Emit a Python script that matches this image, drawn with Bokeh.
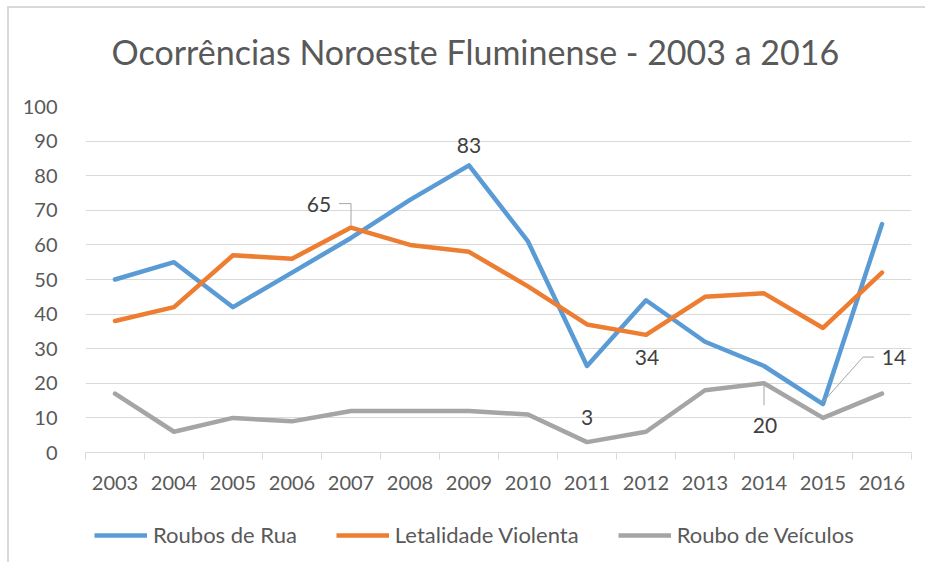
from bokeh.plotting import figure
from bokeh.layouts import column
from bokeh.models import (FixedTicker, Legend, LegendItem, Label, Range1d, Title)
from bokeh.embed import file_html
from bokeh.resources import INLINE

years = [2003, 2004, 2005, 2006, 2007, 2008, 2009, 2010, 2011, 2012, 2013, 2014, 2015, 2016]
roubos_rua = [50, 55, 42, 52, 62, 73, 83, 61, 25, 44, 32, 25, 14, 66]
letalidade = [38, 42, 57, 56, 65, 60, 58, 48, 37, 34, 45, 46, 36, 52]
roubo_veiculos = [17, 6, 10, 9, 12, 12, 12, 11, 3, 6, 18, 20, 10, 17]
series_names = ["Roubos de Rua", "Letalidade Violenta", "Roubo de Veículos"]
y_ticks = [0, 10, 20, 30, 40, 50, 60, 70, 80, 90, 100]
title_text = "Ocorrências Noroeste Fluminense - 2003 a 2016"

FONT = "Lato"
TXT = "#595959"
GRID = "#d9d9d9"
COLORS = ["#5b9bd5", "#ed7d31", "#a5a5a5"]
SERIES = [roubos_rua, letalidade, roubo_veiculos]

p = figure(width=916, height=502, output_backend="svg", toolbar_location=None,
           x_range=Range1d(years[0] - 0.5, years[-1] + 0.5),
           y_range=Range1d(y_ticks[0], y_ticks[-1]),
           min_border_left=76, min_border_right=14, min_border_top=98, min_border_bottom=58)
p.title_location = None
p.outline_line_color = None
p.background_fill_color = "white"
p.border_fill_color = "white"

# title (spacer first, closest to the frame)
p.add_layout(Title(text=" ", text_font_size="10px", standoff=17, text_color="white"), "above")
p.add_layout(Title(text=title_text, text_font=FONT, text_font_size="34px", text_font_style="normal",
                   text_color=TXT, align="left", offset=26, standoff=10), "above")

# axes
p.xaxis.ticker = FixedTicker(ticks=years, minor_ticks=[y - 0.5 for y in years] + [years[-1] + 0.5])
p.xaxis.major_tick_out = 0
p.xaxis.major_tick_in = 0
p.xaxis.minor_tick_in = 0
p.xaxis.minor_tick_out = 7
p.xaxis.minor_tick_line_color = GRID
p.xaxis.axis_line_color = GRID
p.xaxis.major_label_text_font = FONT
p.xaxis.major_label_text_font_size = "20px"
p.xaxis.major_label_text_color = TXT
p.xaxis.major_label_standoff = 16

p.yaxis.ticker = FixedTicker(ticks=y_ticks)
p.yaxis.axis_line_color = None
p.yaxis.major_tick_line_color = None
p.yaxis.minor_tick_line_color = None
p.yaxis.major_label_text_font = FONT
p.yaxis.major_label_text_font_size = "20px"
p.yaxis.major_label_text_color = TXT
p.yaxis.major_label_standoff = 22

p.xgrid.grid_line_color = None
p.ygrid.grid_line_color = GRID
p.ygrid.grid_line_width = 1

for vals, col in zip(SERIES, COLORS):
    p.line(years, vals, line_color=col, line_width=4.5, line_join="round", line_cap="round")

LEAD = "#a6a6a6"
px_x = 1 / 59.0
px_y = 1 / 3.46

def dlabel(x, y, dx, dy):
    lab = Label(x=x, y=y, text=str(y), x_offset=dx, y_offset=dy,
                text_font=FONT, text_font_size="21px", text_color="#404040",
                text_align="center", text_baseline="middle")
    p.add_layout(lab)

# data labels
i = years.index(2009); dlabel(years[i], roubos_rua[i], 0, 20)
i = years.index(2007); dlabel(years[i], letalidade[i], -32, 23)
xl, yl = years[i], letalidade[i]
p.line([xl - 12 * px_x, xl, xl], [yl + 24 * px_y, yl + 24 * px_y, yl + 2 * px_y], line_color=LEAD, line_width=1)
i = years.index(2012); dlabel(years[i], letalidade[i], 1, -23)
i = years.index(2011); dlabel(years[i], roubo_veiculos[i], 0, 25)
i = years.index(2014); dlabel(years[i], roubo_veiculos[i], 1, -42)
xl, yl = years[i], roubo_veiculos[i]
p.line([xl, xl], [yl - 2 * px_y, yl - 22 * px_y], line_color=LEAD, line_width=1)
i = years.index(2015); dlabel(years[i], roubos_rua[i], 71, 47)
xl, yl = years[i], roubos_rua[i]
p.line([xl, xl + 40 * px_x, xl + 51 * px_x], [yl + 2 * px_y, yl + 47 * px_y, yl + 47 * px_y], line_color=LEAD, line_width=1)

# legend strip (separate figure so that nothing is clipped); its series lie outside its view
lf = figure(width=916, height=52, output_backend="svg", toolbar_location=None,
            x_axis_type=None, y_axis_type=None,
            x_range=Range1d(years[0] - 0.5, years[-1] + 0.5), y_range=Range1d(1000, 1001),
            min_border=0)
lf.title_location = None
lf.outline_line_color = None
lf.xgrid.visible = False
lf.ygrid.visible = False
lrs = [lf.line(years, vals, line_color=c, line_width=4.5) for vals, c in zip(SERIES, COLORS)]
legend = Legend(items=[LegendItem(label=n, renderers=[r]) for n, r in zip(series_names, lrs)],
                orientation="horizontal", location=(9, 14))
legend.label_text_font = FONT
legend.label_text_font_size = "22px"
legend.label_text_color = TXT
legend.glyph_width = 53
legend.glyph_height = 20
legend.label_standoff = 6
legend.spacing = 39
legend.border_line_color = None
legend.background_fill_alpha = 0
legend.padding = 4
legend.margin = 0
lf.add_layout(legend, "center")

layout = column(p, lf, spacing=0)
layout.styles = {"margin-left": "7px", "margin-top": "6px",
                 "border-left": "2px solid #d9d9d9", "border-top": "2px solid #d9d9d9"}

open("out.html", "w").write(file_html(layout, INLINE))
